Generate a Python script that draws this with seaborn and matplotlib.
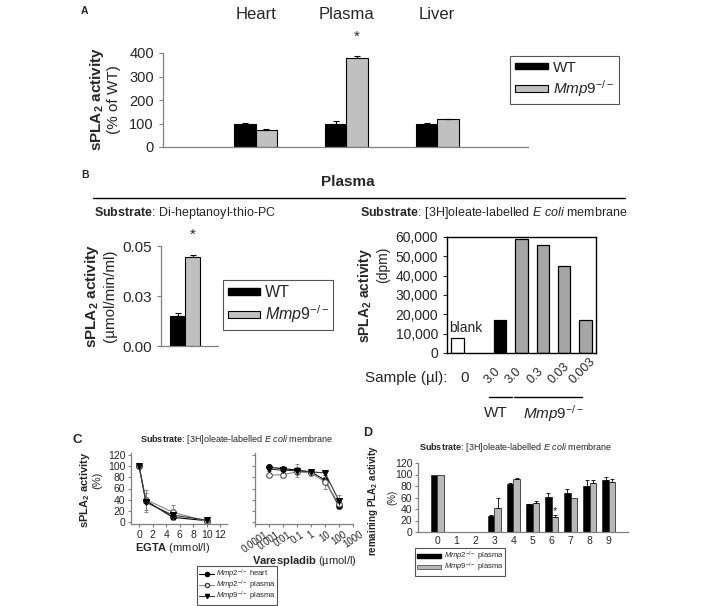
import numpy as np
import pandas as pd
import seaborn as sns
import matplotlib.pyplot as plt
import matplotlib.transforms as mtransforms
from matplotlib.lines import Line2D
from matplotlib.patches import Rectangle
from matplotlib.ticker import StrMethodFormatter, NullLocator

# ---- data -------------------------------------------------------------
# A: sPLA2 activity, % of WT
tissues = ["Heart", "Plasma", "Liver"]
tissue_wt = [100, 100, 100]
tissue_wt_err = [1, 12, 1]
tissue_ko = [74, 380, 118]
tissue_ko_err = [1, 8, 1]

# B left: di-heptanoyl-thio-PC substrate (umol/min/ml)
genotypes = ["WT", "Mmp9"]
thio_activity = [0.015, 0.0445]
thio_err = [0.0015, 0.001]

# B right: E coli membrane substrate (dpm)
sample_order = ["blank", "gap", "WT 3.0", "KO 3.0", "KO 0.3", "KO 0.03", "KO 0.003"]
sample_ids = ["blank", "WT 3.0", "KO 3.0", "KO 0.3", "KO 0.03", "KO 0.003"]
sample_dpm = [8000, 17000, 59000, 56000, 45000, 17000]
sample_labels = ["0", "", "3.0", "3.0", "0.3", "0.03", "0.003"]

# C: inhibition curves (%)
egta = [0, 1, 5, 10]
egta_heart = [100, 38, 8, 2]
egta_heart_err = [2, 5, 3, 1]
egta_mmp2_plasma = [100, 40, 17, 1]
egta_mmp2_plasma_err = [2, 18, 13, 1]
egta_mmp9_plasma = [100, 35, 12, 3]
egta_mmp9_plasma_err = [2, 17, 4, 1]

vares = [0.001, 0.01, 0.1, 1, 10, 100]
vares_heart = [98, 96, 93, 90, 75, 28]
vares_heart_err = [6, 4, 12, 3, 5, 3]
vares_mmp2_plasma = [84, 85, 90, 88, 72, 32]
vares_mmp2_plasma_err = [2, 2, 3, 2, 12, 4]
vares_mmp9_plasma = [95, 93, 92, 90, 88, 38]
vares_mmp9_plasma_err = [4, 3, 6, 2, 3, 10]
vares_ticks = [1e-4, 1e-3, 1e-2, 1e-1, 1, 10, 100, 1000]
vares_ticklabels = ["0.0001", "0.001", "0.01", "0.1", "1", "10", "100", "1000"]

# D: remaining PLA2 activity (%)
d_positions = [str(i) for i in range(10)]
d_mmp2 = [100, 0, 0, 28, 84, 48, 61, 68, 80, 91]
d_mmp2_err = [0, 0, 0, 2, 2, 1, 7, 7, 11, 4]
d_mmp9 = [100, 0, 0, 42, 93, 51, 26, 59, 86, 87]
d_mmp9_err = [0, 0, 0, 17, 1, 3, 3, 0, 4, 5]

# ---- style ------------------------------------------------------------
sns.set_style("ticks")
plt.rcParams["font.family"] = ["Liberation Sans", "DejaVu Sans"]
plt.rcParams["mathtext.fontset"] = "custom"
plt.rcParams["mathtext.rm"] = "Liberation Sans"
plt.rcParams["mathtext.it"] = "Liberation Sans:italic"
plt.rcParams["mathtext.bf"] = "Liberation Sans:bold"

W, H = 709, 606
fig = plt.figure(figsize=(W / 100, H / 100), dpi=100)


def box(l, t, r, b):
    return [l / W, 1 - b / H, (r - l) / W, (b - t) / H]


def ftext(x, y, s, **kw):
    kw.setdefault("ha", "center")
    kw.setdefault("va", "center")
    fig.text(x / W, 1 - y / H, s, **kw)


def up_errors(ax, containers, errs, lw=0.8, cap=2):
    for cont, err in zip(containers, errs):
        for bar, e in zip(cont, err):
            if e <= 0:
                continue
            x = bar.get_x() + bar.get_width() / 2
            ax.errorbar(x, bar.get_height(), yerr=[[0], [e]], fmt="none",
                        ecolor="black", elinewidth=lw, capsize=cap, capthick=lw)


def style_spines(ax, color="#808080", lw=0.9):
    for s in ax.spines.values():
        s.set_color(color)
        s.set_linewidth(lw)


def box_legend(handles, labels, x, y, **kw):
    opts = dict(loc="upper left", bbox_to_anchor=(x / W, 1 - y / H), frameon=True,
                fancybox=False, edgecolor="#555555", framealpha=1, borderaxespad=0)
    opts.update(kw)
    leg = fig.legend(handles, labels, **opts)
    leg.get_frame().set_linewidth(0.8)
    return leg


KO = r"$\mathit{Mmp9}^{-/-}$"
KO2 = r"$\mathit{Mmp2}^{-/-}$"
SUB_ECOLI = r"$\mathbf{Substrate}$: [3H]oleate-labelled $\mathit{E\ coli}$ membrane"

# ---- A ----------------------------------------------------------------
axA = fig.add_axes(box(163, 53, 528, 147))
dfA = pd.DataFrame({"tissue": tissues * 2,
                    "genotype": ["WT"] * 3 + ["KO"] * 3,
                    "value": tissue_wt + tissue_ko})
sns.barplot(data=dfA, x="tissue", y="value", hue="genotype", order=tissues,
            hue_order=["WT", "KO"], palette={"WT": "black", "KO": "#c0c0c0"},
            width=0.47, edgecolor="black", linewidth=0.8, errorbar=None,
            legend=False, ax=axA)
up_errors(axA, axA.containers, [tissue_wt_err, tissue_ko_err])
axA.set_xlim(-1.02, 3.0)
axA.set_ylim(0, 400)
axA.set_yticks(range(0, 401, 100))
axA.xaxis.tick_top()
axA.tick_params(axis="x", length=0, labelsize=12, pad=22)
axA.tick_params(axis="y", length=3, labelsize=10.5, color="#808080")
axA.set_xlabel("")
axA.set_ylabel("")
sns.despine(ax=axA)
style_spines(axA)
pb = axA.containers[1][1]
axA.text(pb.get_x() + pb.get_width() / 2, 470, "*", ha="center", va="center", fontsize=11)
ftext(97, 99, r"sPLA$_\mathbf{2}$ activity", rotation=90, fontsize=11, fontweight="bold")
ftext(114, 100, "(% of WT)", rotation=90, fontsize=11)
ftext(84, 11, "A", fontsize=7.5, fontweight="bold")
box_legend([Rectangle((0, 0), 1, 1, facecolor="black", edgecolor="black"),
            Rectangle((0, 0), 1, 1, facecolor="#c0c0c0", edgecolor="black", lw=0.8)],
           ["WT", KO], 510, 56, fontsize=11, handlelength=2.2, handleheight=0.3,
           borderpad=0.3, labelspacing=0.25, handletextpad=0.3)

# ---- B ----------------------------------------------------------------
ftext(85, 175, "B", fontsize=7.5, fontweight="bold")
ftext(348, 182, "Plasma", fontsize=11, fontweight="bold")
fig.add_artist(Line2D([93 / W, 625 / W], [1 - 198 / H] * 2, color="black", lw=1))
ftext(185, 213, r"$\mathbf{Substrate}$: Di-heptanoyl-thio-PC", fontsize=9)
ftext(494, 213, SUB_ECOLI, fontsize=9)

axB1 = fig.add_axes(box(161, 246, 218, 346))
sns.barplot(x=genotypes, y=thio_activity, hue=genotypes,
            palette={"WT": "black", "Mmp9": "#c0c0c0"}, width=1.0,
            edgecolor="black", linewidth=0.8, errorbar=None, legend=False, ax=axB1)
up_errors(axB1, [[p for c in axB1.containers for p in c]], [thio_err])
axB1.set_xlim(-1.1, 2.7)
axB1.set_ylim(0, 0.05)
axB1.set_yticks([0, 0.025, 0.05])
axB1.set_yticklabels(["0.00", "0.03", "0.05"])
axB1.set_xticks([])
axB1.tick_params(axis="y", length=3, labelsize=11, color="#808080")
sns.despine(ax=axB1)
style_spines(axB1)
axB1.text(1, 0.0555, "*", ha="center", va="center", fontsize=11)
ftext(92, 296, r"sPLA$_\mathbf{2}$ activity", rotation=90, fontsize=11, fontweight="bold")
ftext(110, 296, "(µmol/min/ml)", rotation=90, fontsize=11)
box_legend([Rectangle((0, 0), 1, 1, facecolor="black", edgecolor="black"),
            Rectangle((0, 0), 1, 1, facecolor="#c0c0c0", edgecolor="black", lw=0.8)],
           ["WT", KO], 223, 280, fontsize=11.5, handlelength=2.0, handleheight=0.3,
           borderpad=0.3, labelspacing=0.25, handletextpad=0.3)

axB2 = fig.add_axes(box(447, 237, 596, 353))
pal_b2 = {"blank": "white", "WT 3.0": "black", "KO 3.0": "#a6a6a6",
          "KO 0.3": "#a6a6a6", "KO 0.03": "#a6a6a6", "KO 0.003": "#a6a6a6"}
sns.barplot(x=sample_ids, y=sample_dpm, hue=sample_ids, order=sample_order,
            palette=pal_b2, width=0.58, edgecolor="black", linewidth=0.9,
            errorbar=None, legend=False, ax=axB2)
axB2.set_xlim(-0.5, 6.5)
axB2.set_ylim(0, 60000)
axB2.set_yticks(range(0, 60001, 10000))
axB2.yaxis.set_major_formatter(StrMethodFormatter("{x:,.0f}"))
axB2.tick_params(axis="y", length=3, labelsize=10)
axB2.set_xticks([])
style_spines(axB2, color="black", lw=1)
axB2.text(0.38, 13000, "blank", ha="center", va="center", fontsize=10)
tb = mtransforms.blended_transform_factory(axB2.transData, axB2.transAxes)
for i, lab in enumerate(sample_labels):
    if not lab:
        continue
    if i == 0:
        axB2.text(i + 0.33, -0.215, lab, transform=tb, ha="center", va="center", fontsize=11)
    else:
        axB2.text(i - 0.55, -0.27, lab, transform=tb, ha="left", va="baseline",
                  rotation=45, rotation_mode="anchor", fontsize=9)
ftext(365, 378, "Sample (µl):", ha="left", fontsize=11)
axB2.plot([1.45, 2.55], [-0.38, -0.38], transform=tb, color="black", lw=1, clip_on=False)
axB2.plot([2.65, 5.85], [-0.38, -0.38], transform=tb, color="black", lw=1, clip_on=False)
axB2.text(1.8, -0.52, "WT", transform=tb, ha="center", va="center", fontsize=11)
axB2.text(4.5, -0.52, KO, transform=tb, ha="center", va="center", fontsize=11)
ftext(365, 295, r"sPLA$_\mathbf{2}$ activity", rotation=90, fontsize=10, fontweight="bold")
ftext(383, 265, "(dpm)", rotation=90, fontsize=10)

# ---- C ----------------------------------------------------------------
ftext(77, 440, "C", fontsize=9.5, fontweight="bold")
ftext(237, 440, SUB_ECOLI, fontsize=6.5)
c_styles = [dict(color="black", marker="o", markerfacecolor="black", markeredgecolor="black"),
            dict(color="#8a8a8a", marker="o", markerfacecolor="white", markeredgecolor="#444444"),
            dict(color="#333333", marker="v", markerfacecolor="black", markeredgecolor="black")]
c_labels = [KO2 + " heart", KO2 + " plasma", KO + " plasma"]

axC1 = fig.add_axes(box(131, 453, 227, 524))
axC2 = fig.add_axes(box(255, 453, 353, 524))
for ax, xs, series in [
        (axC1, egta, [(egta_heart, egta_heart_err), (egta_mmp2_plasma, egta_mmp2_plasma_err),
                      (egta_mmp9_plasma, egta_mmp9_plasma_err)]),
        (axC2, vares, [(vares_heart, vares_heart_err), (vares_mmp2_plasma, vares_mmp2_plasma_err),
                       (vares_mmp9_plasma, vares_mmp9_plasma_err)])]:
    for (vals, errs), st in zip(series, c_styles):
        ax.errorbar(xs, vals, yerr=errs, fmt="none", ecolor="#777777",
                    elinewidth=0.6, capsize=1.5, capthick=0.6)
        sns.lineplot(x=xs, y=vals, ax=ax, linewidth=0.8, markersize=4, **st)
    ax.set_ylim(-4, 124)
    ax.set_yticks(range(0, 121, 20))
    ax.tick_params(length=2, labelsize=7.5, color="#808080", pad=2)
    sns.despine(ax=ax)
    style_spines(ax)

axC1.set_xlim(-1.2, 13)
axC1.set_xticks(range(0, 13, 2))
axC2.set_xscale("log")
axC2.set_xlim(1e-4, 1e3)
axC2.set_xticks(vares_ticks)
axC2.set_xticklabels(vares_ticklabels, rotation=35, ha="center", fontsize=7)
axC2.xaxis.set_minor_locator(NullLocator())
axC2.set_yticklabels([])
ftext(173, 548, r"$\mathbf{EGTA}$ (mmol/l)", fontsize=8)
ftext(304, 561, r"$\mathbf{Varespladib}$ (µmol/l)", fontsize=8)
ftext(85, 490, r"sPLA$_\mathbf{2}$ activity", rotation=90, fontsize=8, fontweight="bold")
ftext(97, 480, "(%)", rotation=90, fontsize=8)
box_legend([Line2D([0], [0], linewidth=0.8, markersize=3, **st) for st in c_styles],
           c_labels, 197, 566, fontsize=5.5, handlelength=2.0, borderpad=0.25,
           labelspacing=-0.3, handletextpad=0.2)

# ---- D ----------------------------------------------------------------
ftext(368, 433, "D", fontsize=9, fontweight="bold")
ftext(516, 447, SUB_ECOLI, fontsize=6.5)
axD = fig.add_axes(box(418, 463, 628, 532))
dfD = pd.DataFrame({"pos": d_positions * 2,
                    "plasma": ["Mmp2"] * 10 + ["Mmp9"] * 10,
                    "value": d_mmp2 + d_mmp9})
sns.barplot(data=dfD, x="pos", y="value", hue="plasma", order=d_positions,
            hue_order=["Mmp2", "Mmp9"], palette={"Mmp2": "black", "Mmp9": "#b8b8b8"},
            width=0.68, edgecolor="#333333", linewidth=0.6, errorbar=None,
            legend=False, ax=axD)
up_errors(axD, axD.containers, [d_mmp2_err, d_mmp9_err], lw=0.6, cap=1.5)
axD.set_xlim(-1, 10)
axD.set_ylim(0, 120)
axD.set_yticks(range(0, 121, 20))
axD.tick_params(axis="x", length=0, labelsize=7.5, pad=3)
axD.tick_params(axis="y", length=2, labelsize=7.5, color="#808080", pad=2)
axD.set_xlabel("")
axD.set_ylabel("")
sns.despine(ax=axD)
style_spines(axD)
sb = axD.containers[1][6]
axD.text(sb.get_x() + sb.get_width() / 2, 36, "*", ha="center", va="center", fontsize=8)
ftext(373, 500, r"remaining PLA$_\mathbf{2}$ activity", rotation=90, fontsize=7, fontweight="bold")
ftext(392, 497, "(%)", rotation=90, fontsize=7)
box_legend([Rectangle((0, 0), 1, 1, facecolor="black", edgecolor="black"),
            Rectangle((0, 0), 1, 1, facecolor="#b8b8b8", edgecolor="#555555", lw=0.6)],
           [KO2 + " plasma", KO + " plasma"], 415, 548, fontsize=5.5, handlelength=3.2,
           handleheight=0.4, borderpad=0.25, labelspacing=-0.3, handletextpad=0.3)

fig.savefig("out.png", dpi=100)
